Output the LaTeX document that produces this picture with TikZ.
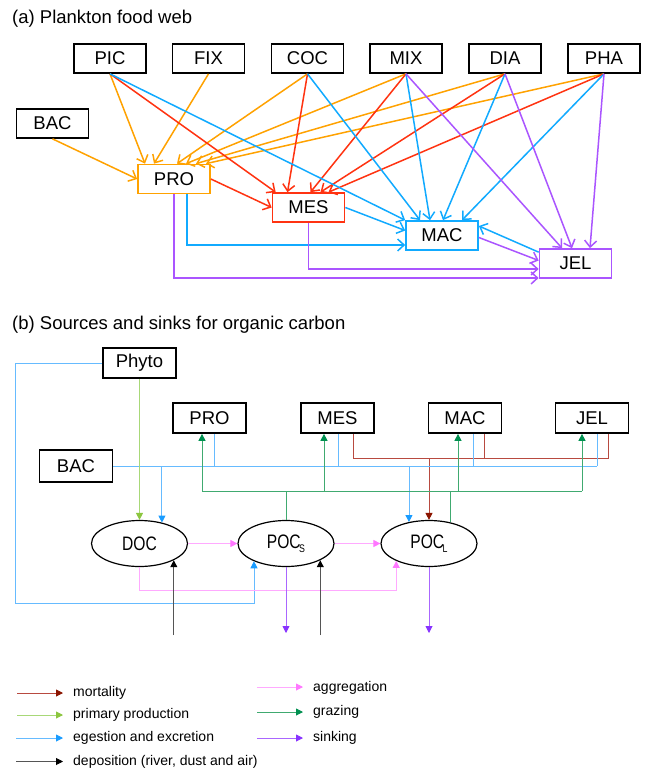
\documentclass[tikz,border=0pt]{standalone}
\usepackage{fontspec}
\setmainfont{Liberation Sans}
\newfontfamily\condfont[FakeStretch=0.8]{Liberation Sans}
\usetikzlibrary{arrows.meta,calc,shapes.geometric}
\definecolor{cOr}{HTML}{FFA200}
\definecolor{cRe}{HTML}{FF3311}
\definecolor{cBl}{HTML}{11AAFF}
\definecolor{cPu}{HTML}{AA55FF}
\definecolor{mortL}{HTML}{B84A40}
\definecolor{mortT}{HTML}{8B1500}
\definecolor{ppL}{HTML}{A8D878}
\definecolor{ppT}{HTML}{8CC63F}
\definecolor{egL}{HTML}{66BBFF}
\definecolor{egT}{HTML}{1A9CFF}
\definecolor{depL}{HTML}{555555}
\definecolor{depT}{HTML}{000000}
\definecolor{agL}{HTML}{FFAAFF}
\definecolor{agT}{HTML}{FF77FF}
\definecolor{grL}{HTML}{40AA70}
\definecolor{grT}{HTML}{009050}
\definecolor{siL}{HTML}{AA66FF}
\definecolor{siT}{HTML}{8833FF}
\tikzset{
  boxA/.style={draw=black, line width=1.7pt, minimum width=72pt, minimum height=29pt, inner sep=0pt, font=\fontsize{18.5}{20}\selectfont},
  boxB/.style={draw=black, line width=1.7pt, minimum width=73pt, minimum height=30pt, inner sep=0pt, font=\fontsize{18.5}{20}\selectfont},
  ell/.style={ellipse, draw=black, line width=1.2pt, minimum width=96pt, minimum height=46pt, inner sep=0pt, font=\condfont\fontsize{19.5}{21}\selectfont},
  fw/.style={line width=1.5pt, -{Straight Barb[length=6.5pt,width=12pt]}},
  ttl/.style={anchor=base west, inner sep=0pt, font=\fontsize{18.5}{20}\selectfont},
  lg/.style={anchor=base west, inner sep=0pt, font=\fontsize{14}{16}\selectfont},
  mo/.style={draw=mortL, line width=0.9pt},
  moA/.style={mo, -{Triangle[length=7pt,width=7pt,color=mortT]}},
  ppA/.style={draw=ppL, line width=0.9pt, -{Triangle[length=7pt,width=7pt,color=ppT]}},
  eg/.style={draw=egL, line width=0.9pt},
  egA/.style={eg, -{Triangle[length=7pt,width=7pt,color=egT]}},
  deA/.style={draw=depL, line width=0.9pt, -{Triangle[length=7pt,width=7pt,color=depT]}},
  agA/.style={draw=agL, line width=0.9pt, -{Triangle[length=7pt,width=7pt,color=agT]}},
  gr/.style={draw=grL, line width=0.9pt},
  grA/.style={gr, -{Triangle[length=7pt,width=7pt,color=grT]}},
  siA/.style={draw=siL, line width=0.9pt, -{Triangle[length=7pt,width=7pt,color=siT]}},
}
\newcommand{\subsc}[1]{\kern-1.5pt\raisebox{-4pt}{\fontsize{11}{11}\selectfont #1}}
\begin{document}
\begin{tikzpicture}[x=1pt,y=-1pt]
\useasboundingbox[fill=white] (0,0) rectangle (651,769);
% ---------- (a) ----------
\node[ttl] (ta) at (12,23) {(a) Plankton food web};
\node[boxA] (PIC) at (110,58.5) {PIC};
\node[boxA] (FIX) at (208.5,58.5) {FIX};
\node[boxA] (COC) at (307.5,58.5) {COC};
\node[boxA] (MIX) at (406,58.5) {MIX};
\node[boxA] (DIA) at (505,58.5) {DIA};
\node[boxA] (PHA) at (604,58.5) {PHA};
\node[boxA] (BAC) at (52.5,123.5) {BAC};
\node[boxA, draw=cOr] (PRO) at (174,179) {PRO};
\node[boxA, draw=cRe] (MES) at (308.5,207.5) {MES};
\node[boxA, draw=cBl] (MAC) at (442,235.5) {MAC};
\node[boxA, draw=cPu] (JEL) at (575.5,263.5) {JEL};
% orange
\draw[fw, cOr] (PIC.south) -- ([xshift=-29pt]PRO.north);
\draw[fw, cOr] (FIX.south) -- ([xshift=-20pt]PRO.north);
\draw[fw, cOr] (COC.south) -- ([xshift=3pt]PRO.north);
\draw[fw, cOr] (MIX.south) -- ([xshift=12pt]PRO.north);
\draw[fw, cOr] (DIA.south) -- ([xshift=22pt]PRO.north);
\draw[fw, cOr] (PHA.south) -- ([xshift=32pt]PRO.north);
\draw[fw, cOr] (BAC.south) -- (PRO.west);
% red
\draw[fw, cRe] (PRO.east) -- (MES.west);
\draw[fw, cRe] (PIC.south) -- ([xshift=4pt]MES.north west);
\draw[fw, cRe] (COC.south) -- ([xshift=-21pt]MES.north);
\draw[fw, cRe] (MIX.south) -- ([xshift=2pt]MES.north);
\draw[fw, cRe] (DIA.south) -- ([xshift=12pt]MES.north);
\draw[fw, cRe] (PHA.south) -- ([xshift=20pt]MES.north);
% blue
\draw[fw, cBl] (PIC.south) -- (MAC.north west);
\draw[fw, cBl] (COC.south) -- ([xshift=-22pt]MAC.north);
\draw[fw, cBl] (MIX.south) -- ([xshift=-12pt]MAC.north);
\draw[fw, cBl] (DIA.south) -- ([xshift=1pt]MAC.north);
\draw[fw, cBl] (PHA.south) -- ([xshift=20pt]MAC.north);
\draw[fw, cBl] (MES.east) -- ([yshift=5pt]MAC.west);
\draw[fw, cBl] ([xshift=13pt]PRO.south) |- ([yshift=-9.5pt]MAC.west);
\draw[fw, cBl] ([yshift=-4pt]JEL.north west) -- ([yshift=9.5pt]MAC.east);
% purple
\draw[fw, cPu] (MIX.south) -- ([xshift=-13.5pt]JEL.north);
\draw[fw, cPu] (DIA.south) -- ([xshift=-3.5pt]JEL.north);
\draw[fw, cPu] (PHA.south) -- ([xshift=14.5pt]JEL.north);
\draw[fw, cPu] ([yshift=-2pt]MAC.east) -- ([yshift=3pt]JEL.west);
\draw[fw, cPu] (MES.south) |- ([yshift=-5.5pt]JEL.west);
\draw[fw, cPu] (PRO.south) |- ([yshift=-14.5pt]JEL.west);
% ---------- (b) ----------
\node[ttl] (tb) at (12,329) {(b) Sources and sinks for organic carbon};
\node[boxB] (Phyto) at (139.5,363) {Phyto};
\node[boxB] (bPRO) at (209.5,418) {PRO};
\node[boxB] (bMES) at (337.5,418) {MES};
\node[boxB] (bMAC) at (465,418) {MAC};
\node[boxB] (bJEL) at (592,418) {JEL};
\node[boxB, minimum height=32pt] (bBAC) at (76,466) {BAC};
\node[ell] (DOC) at (139.5,543.5) {DOC};
\node[ell] (POCs) at (286,543.5) {POC\subsc{S}};
\node[ell] (POCL) at (429,543.5) {POC\subsc{L}};
\coordinate (yMort) at (0,458);
\coordinate (yEg) at (0,466);
\coordinate (yGr) at (0,491);
\coordinate (yPk) at (0,590);
\coordinate (yBot) at (0,603);
\coordinate (yDep) at (0,635);
\coordinate (ySink) at (0,633);
\coordinate (xLeft) at (15,0);
\coordinate (ePRO) at ([xshift=4.5pt]bPRO.south);
\coordinate (eMES) at ([xshift=0.5pt]bMES.south);
\coordinate (eMAC) at ([xshift=8pt]bMAC.south);
\coordinate (eJEL) at ([xshift=5pt]bJEL.south);
\coordinate (mMES) at ([xshift=15.5pt]bMES.south);
\coordinate (mMAC) at ([xshift=19pt]bMAC.south);
\coordinate (mJEL) at ([xshift=16pt]bJEL.south);
\coordinate (gPRO) at ([xshift=-7.5pt]bPRO.south);
\coordinate (gMES) at ([xshift=-13.5pt]bMES.south);
\coordinate (gMAC) at ([xshift=-7pt]bMAC.south);
\coordinate (gJEL) at ([xshift=-10pt]bJEL.south);
% mortality
\draw[mo] (mMES) |- (mJEL |- yMort) -- (mJEL);
\draw[mo] (mMAC) -- (mMAC |- yMort);
\draw[moA] (POCL.north |- yMort) -- (POCL.north);
% egestion
\draw[eg] (bBAC.east) -- (eJEL |- yEg);
\draw[eg] (ePRO) -- (ePRO |- yEg);
\draw[eg] (eMES) -- (eMES |- yEg);
\draw[eg] (eMAC) -- (eMAC |- yEg);
\draw[eg] (eJEL) -- (eJEL |- yEg);
\draw[egA] (DOC.43 |- yEg) -- (DOC.43);
\draw[egA] (POCL.133 |- yEg) -- (POCL.133);
\draw[egA] (Phyto.west) -| (xLeft |- yBot) -| (POCs.209);
% grazing
\draw[gr] (gPRO |- yGr) -- (gJEL |- yGr);
\draw[grA] (gPRO |- yGr) -- (gPRO);
\draw[grA] (gMES |- yGr) -- (gMES);
\draw[grA] (gMAC |- yGr) -- (gMAC);
\draw[grA] (gJEL |- yGr) -- (gJEL);
\draw[gr] (POCs.north) -- (POCs.north |- yGr);
\draw[gr] (POCL.45) -- (POCL.45 |- yGr);
% primary production
\draw[ppA] (Phyto.south) -- (DOC.north);
% aggregation
\draw[agA] (DOC.east) -- (POCs.west);
\draw[agA] (POCs.east) -- (POCL.west);
\draw[agA] (DOC.south) -- (DOC.south |- yPk) -| (POCL.208);
% deposition
\draw[deA] (DOC.334 |- yDep) -- (DOC.334);
\draw[deA] (POCs.334 |- yDep) -- (POCs.334);
% sinking
\draw[siA] (POCs.south) -- (POCs.south |- ySink);
\draw[siA] (POCL.south) -- (POCL.south |- ySink);
% ---------- legend ----------
\node[lg] (lm) at (73,696.5) {mortality};
\node[lg] (lp) at (73,718.5) {primary production};
\node[lg] (le) at (73,741.5) {egestion and excretion};
\node[lg] (ld) at (73,765) {deposition (river, dust and air)};
\node[lg] (la) at (313,691) {aggregation};
\node[lg] (lgz) at (313,715.5) {grazing};
\node[lg] (ls) at (313,741.5) {sinking};
\draw[moA] ($(lm.base west)+(-56,-3.5)$) -- ($(lm.base west)+(-10,-3.5)$);
\draw[ppA] ($(lp.base west)+(-56,-3.5)$) -- ($(lp.base west)+(-10,-3.5)$);
\draw[egA] ($(le.base west)+(-57,-3.5)$) -- ($(le.base west)+(-10,-3.5)$);
\draw[deA] ($(ld.base west)+(-57,-3.5)$) -- ($(ld.base west)+(-10,-3.5)$);
\draw[agA] ($(la.base west)+(-56,-4)$) -- ($(la.base west)+(-10,-4)$);
\draw[grA] ($(lgz.base west)+(-56,-3.5)$) -- ($(lgz.base west)+(-10,-3.5)$);
\draw[siA] ($(ls.base west)+(-56,-3.5)$) -- ($(ls.base west)+(-10,-3.5)$);
\end{tikzpicture}
\end{document}
